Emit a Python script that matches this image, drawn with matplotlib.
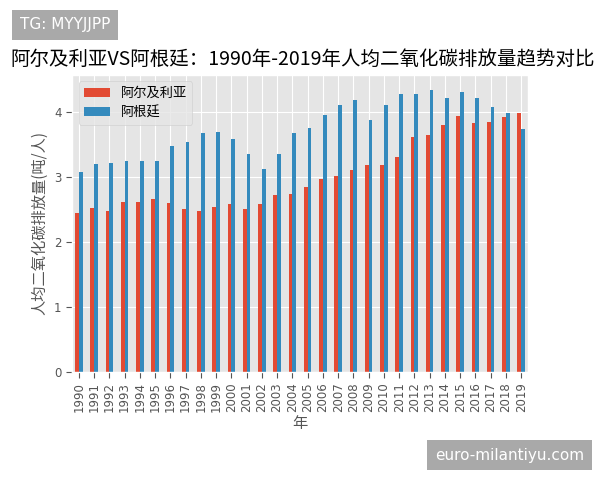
import matplotlib
matplotlib.use("Agg")
import matplotlib.pyplot as plt
import numpy as np

years = [str(y) for y in range(1990, 2020)]
algeria = [2.45, 2.52, 2.48, 2.62, 2.62, 2.66, 2.60, 2.50, 2.47, 2.54,
           2.58, 2.50, 2.59, 2.73, 2.74, 2.85, 2.97, 3.01, 3.11, 3.18,
           3.18, 3.30, 3.61, 3.65, 3.80, 3.94, 3.83, 3.84, 3.92, 3.98]
argentina = [3.08, 3.20, 3.22, 3.25, 3.25, 3.25, 3.48, 3.54, 3.68, 3.69,
             3.58, 3.36, 3.12, 3.35, 3.67, 3.75, 3.95, 4.11, 4.18, 3.87,
             4.11, 4.28, 4.27, 4.34, 4.21, 4.30, 4.21, 4.08, 3.98, 3.74]
series_names = ["阿尔及利亚", "阿根廷"]

plt.style.use("ggplot")
plt.rcParams["font.family"] = ["Noto Sans CJK SC", "DejaVu Sans"]

fig = plt.figure(figsize=(6, 4.8), dpi=100)
ax = fig.add_axes([0.12, 0.225, 0.76, 0.619])

x = np.arange(len(years))
w = 0.25
ax.bar(x - w / 2, algeria, width=w, color="#E24A33", label=series_names[0])
ax.bar(x + w / 2, argentina, width=w, color="#348ABD", label=series_names[1])

ax.set_xlim(-0.45, len(years) - 0.55)
ax.set_ylim(0, 4.57)
ax.set_xticks(x)
ax.set_xticklabels(years, rotation=90, fontsize=8.5, family="DejaVu Sans")
ax.set_yticks([0, 1, 2, 3, 4])
ax.set_yticklabels(["0", "1", "2", "3", "4"], fontsize=8.5, family="DejaVu Sans")
ax.tick_params(color="#555555", length=4)
ax.set_xlabel("年", fontsize=11, labelpad=2)
ax.set_ylabel("人均二氧化碳排放量(吨/人)", fontsize=11)
ax.legend(loc="upper left", fontsize=9.5)

fig.text(0.017, 0.877, "阿尔及利亚VS阿根廷：1990年-2019年人均二氧化碳排放量趋势对比",
         fontsize=14, color="black", va="center", ha="left")

# watermarks
fig.text(0.033, 0.948, "TG: MYYJJPP", fontsize=11, color="white", va="center", ha="left",
         family="DejaVu Sans",
         bbox=dict(boxstyle="square,pad=0.5", facecolor="#A9A9A9", edgecolor="none"))
fig.text(0.725, 0.052, "euro-milantiyu.com", fontsize=11, color="white", va="center", ha="left",
         family="DejaVu Sans",
         bbox=dict(boxstyle="square,pad=0.5", facecolor="#A9A9A9", edgecolor="none"))

fig.savefig("out.png", dpi=100)
